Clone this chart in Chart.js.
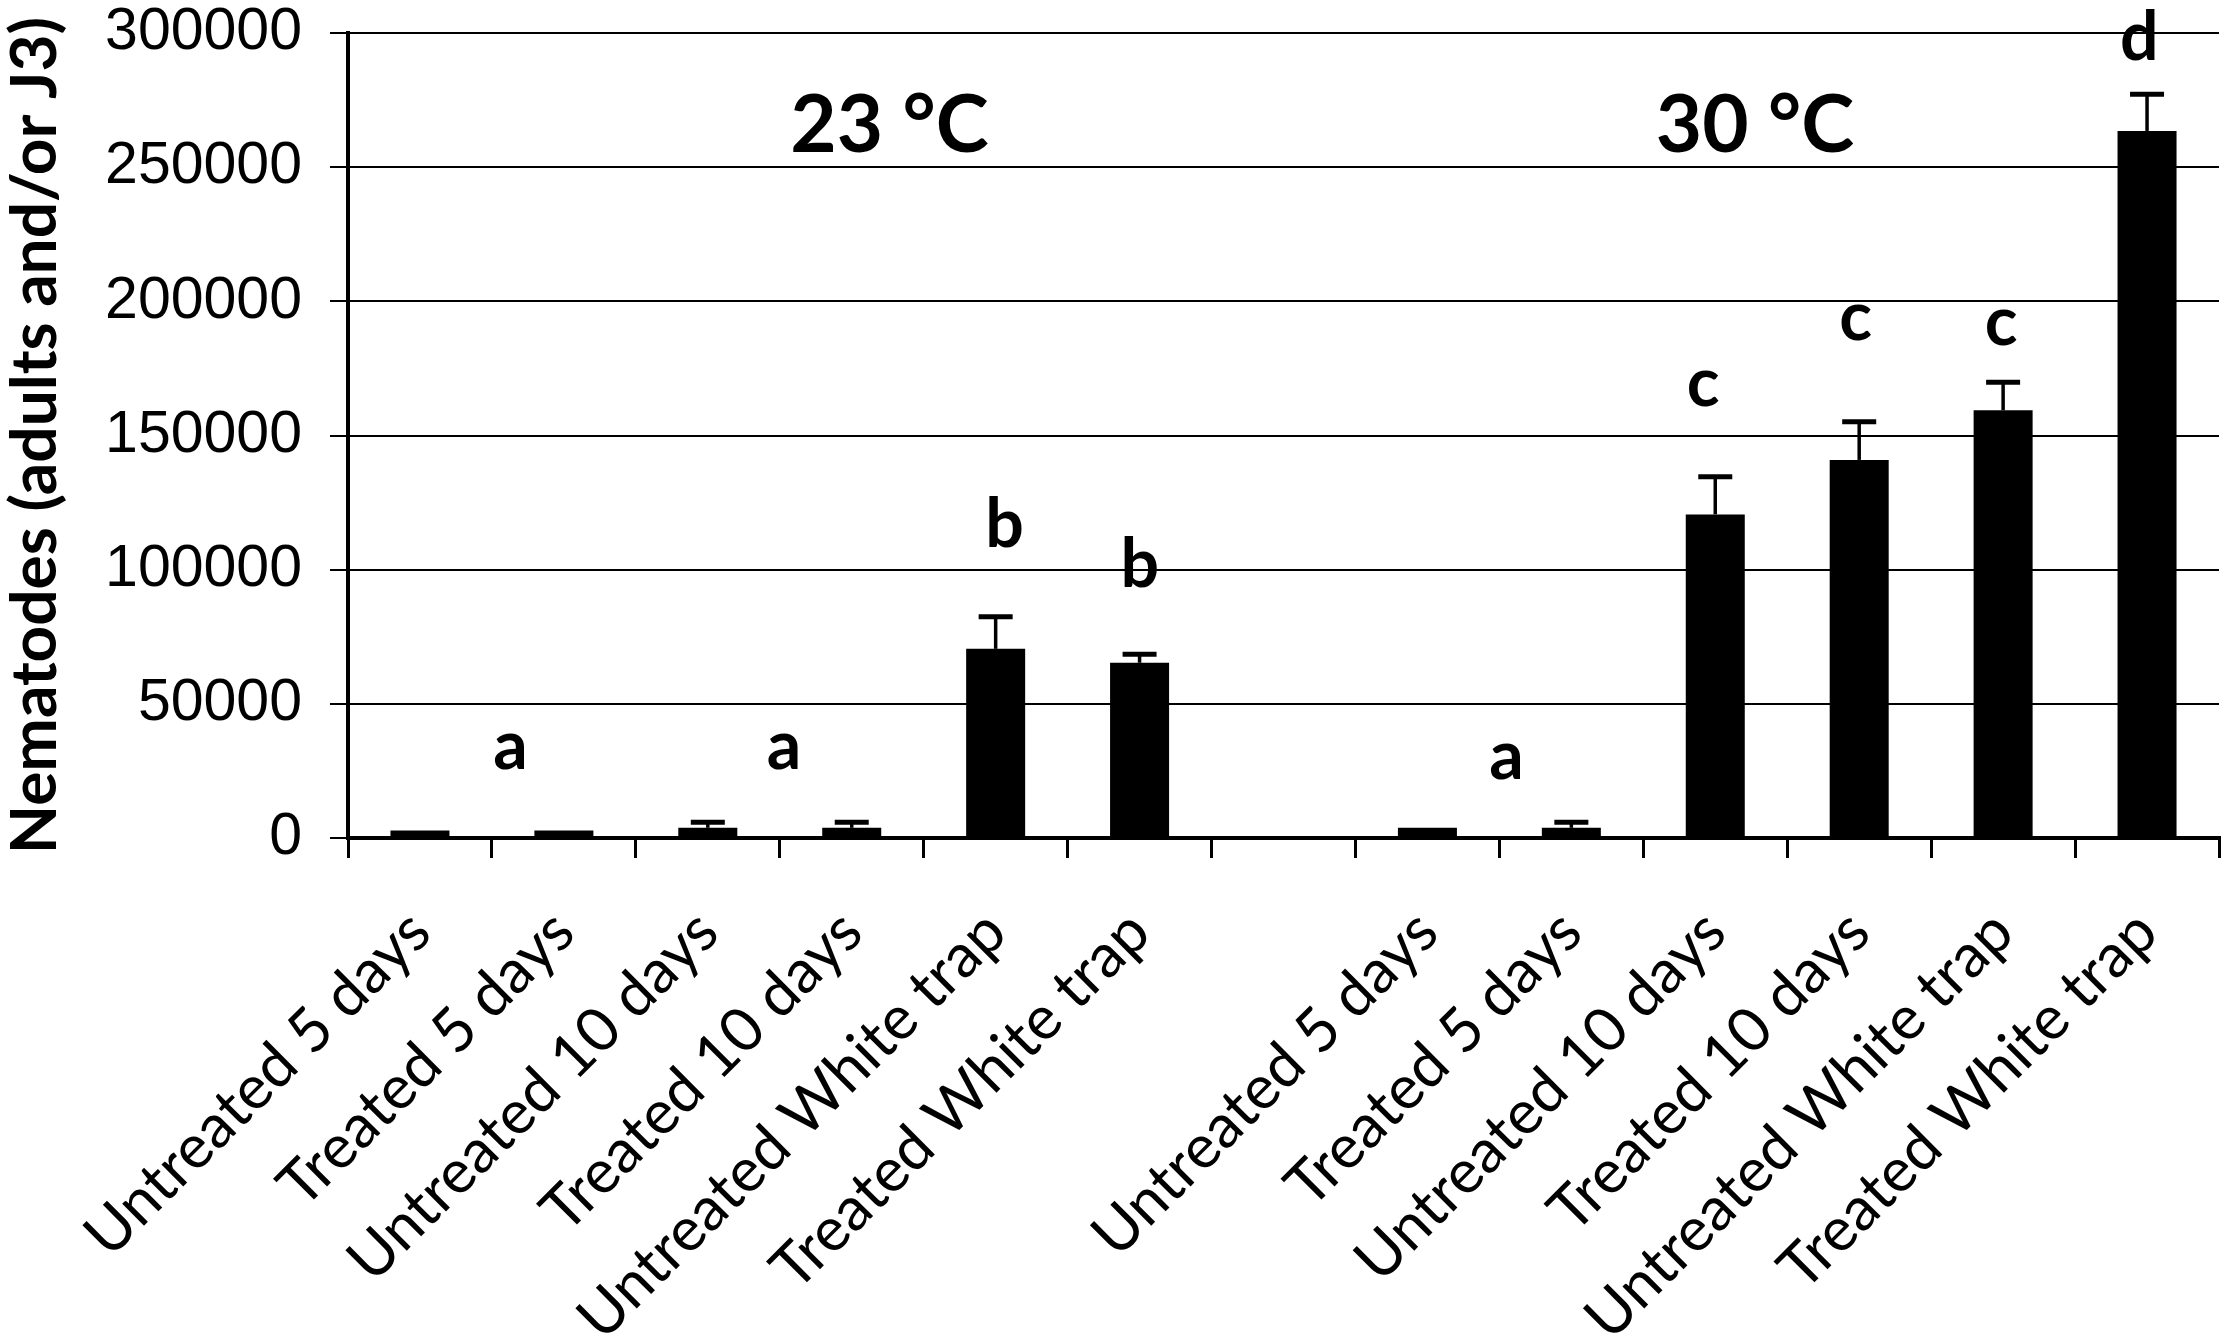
<!DOCTYPE html>
<html>
<head>
<meta charset="utf-8">
<title>Nematodes per treatment</title>
<script src="https://cdn.jsdelivr.net/npm/chart.js@4.4.1/dist/chart.umd.min.js"></script>
<style>
  html, body { margin: 0; padding: 0; background: #fff; }
  #wrap { width: 2227px; height: 1338px; position: relative; }
</style>
</head>
<body>
<div id="wrap"><canvas id="chart"></canvas></div>
<script>
// 6 treatments at 23 °C, an empty spacer slot, 6 treatments at 30 °C
const CATEGORIES = [
  'Untreated 5 days', 'Treated 5 days', 'Untreated 10 days', 'Treated 10 days',
  'Untreated White trap', 'Treated White trap',
  '',
  'Untreated 5 days', 'Treated 5 days', 'Untreated 10 days', 'Treated 10 days',
  'Untreated White trap', 'Treated White trap',
];
const MEANS = [2800, 2800, 3800, 3800, 70500, 65300, null, 3800, 3800, 120600, 140900, 159400, 263500];
const ERRORS = [0, 0, 2100, 2100, 12000, 3200, null, 0, 2100, 14000, 14200, 10400, 13700];
const Y_TICKS = [0, 50000, 100000, 150000, 200000, 250000, 300000];

// significance letters: text, position on the category axis, height in nematodes
const LETTERS = ['a', 'a', 'b', 'b', 'a', 'c', 'c', 'c', 'd'];
const LETTER_X = [0.62, 2.52, 4.07, 5.01, 7.54, 8.92, 9.98, 10.99, 11.94];
const LETTER_Y = [32200, 32200, 117800, 102900, 28500, 167700, 192000, 190200, 299100];

// temperature group headings
const GROUPS = ['23 °C', '30 °C'];
const GROUP_X = [3.27, 9.28];
const GROUP_Y = [266700, 266700];

/** Draws a string centred on its visible glyph box. */
function drawCentered(ctx, text, x, y) {
  const m = ctx.measureText(text);
  const w = m.actualBoundingBoxLeft + m.actualBoundingBoxRight;
  const h = m.actualBoundingBoxAscent + m.actualBoundingBoxDescent;
  ctx.fillText(text, x - w / 2 + m.actualBoundingBoxLeft, y + h / 2 - m.actualBoundingBoxDescent);
}

const errorBars = {
  id: 'errorBars',
  afterDatasetsDraw(chart) {
    const { ctx } = chart;
    const y = chart.scales.y;
    const bars = chart.getDatasetMeta(0).data;
    ctx.save();
    ctx.strokeStyle = '#000';
    ERRORS.forEach((err, i) => {
      if (!err || MEANS[i] == null) return;
      const bar = bars[i];
      const top = y.getPixelForValue(MEANS[i] + err);
      ctx.lineWidth = 3.5;
      ctx.beginPath();
      ctx.moveTo(bar.x, bar.y);
      ctx.lineTo(bar.x, top);
      ctx.stroke();
      ctx.lineWidth = 5;
      ctx.beginPath();
      ctx.moveTo(bar.x - 17, top);
      ctx.lineTo(bar.x + 17, top);
      ctx.stroke();
    });
    ctx.restore();
  },
};

const annotations = {
  id: 'annotations',
  afterDraw(chart) {
    const { ctx } = chart;
    const { x, y } = chart.scales;
    ctx.save();
    ctx.fillStyle = '#000';
    ctx.textAlign = 'left';
    ctx.textBaseline = 'alphabetic';
    ctx.font = 'bold 68px Lato';
    LETTERS.forEach((t, i) => {
      drawCentered(ctx, t, x.getPixelForValue(LETTER_X[i]), y.getPixelForValue(LETTER_Y[i]));
    });
    ctx.font = 'bold 80px Lato';
    GROUPS.forEach((t, i) => {
      drawCentered(ctx, t, x.getPixelForValue(GROUP_X[i]), y.getPixelForValue(GROUP_Y[i]));
    });
    ctx.restore();
  },
};

new Chart(document.getElementById('chart'), {
  type: 'bar',
  data: {
    labels: CATEGORIES,
    datasets: [{
      data: MEANS,
      backgroundColor: '#000',
      borderWidth: 0,
      barPercentage: 0.41,
      categoryPercentage: 1,
    }],
  },
  options: {
    responsive: true,
    maintainAspectRatio: false,
    animation: false,
    devicePixelRatio: 1,
    layout: { padding: { top: 33, right: 8, left: 0, bottom: 0 } },
    plugins: {
      legend: { display: false },
      tooltip: { enabled: false },
    },
    scales: {
      x: {
        grid: { offset: true, drawOnChartArea: false, color: '#000', lineWidth: 3, tickLength: 20 },
        border: { color: '#000', width: 4 },
        ticks: {
          color: '#000',
          font: { family: 'Lato', size: 61 },
          minRotation: 45,
          maxRotation: 45,
          autoSkip: false,
          padding: 38,
        },
        afterFit: (scale) => {
          scale.height = 500;
          // rotated labels hang to the left, so no side padding is needed
          scale.paddingLeft = 0;
          scale.paddingRight = 0;
        },
      },
      y: {
        min: Y_TICKS[0],
        max: Y_TICKS[Y_TICKS.length - 1],
        afterBuildTicks: (scale) => { scale.ticks = Y_TICKS.map((v) => ({ value: v })); },
        grid: { color: '#000', lineWidth: 2, tickLength: 18 },
        border: { color: '#000', width: 4 },
        ticks: {
          color: '#000',
          // small line height keeps the top label from pushing the plot down
          font: { family: "'Liberation Sans', Arial", size: 59, lineHeight: 0.1 },
          padding: 28,
          callback: (v) => String(v),
        },
        title: {
          display: true,
          text: 'Nematodes (adults and/or J3)',
          color: '#000',
          font: { family: 'Lato', size: 64, weight: 'bold', lineHeight: 1 },
          padding: { top: 3, bottom: 0 },
        },
        afterFit: (scale) => { scale.width = 348; },
      },
    },
  },
  plugins: [errorBars, annotations],
});
</script>
</body>
</html>
